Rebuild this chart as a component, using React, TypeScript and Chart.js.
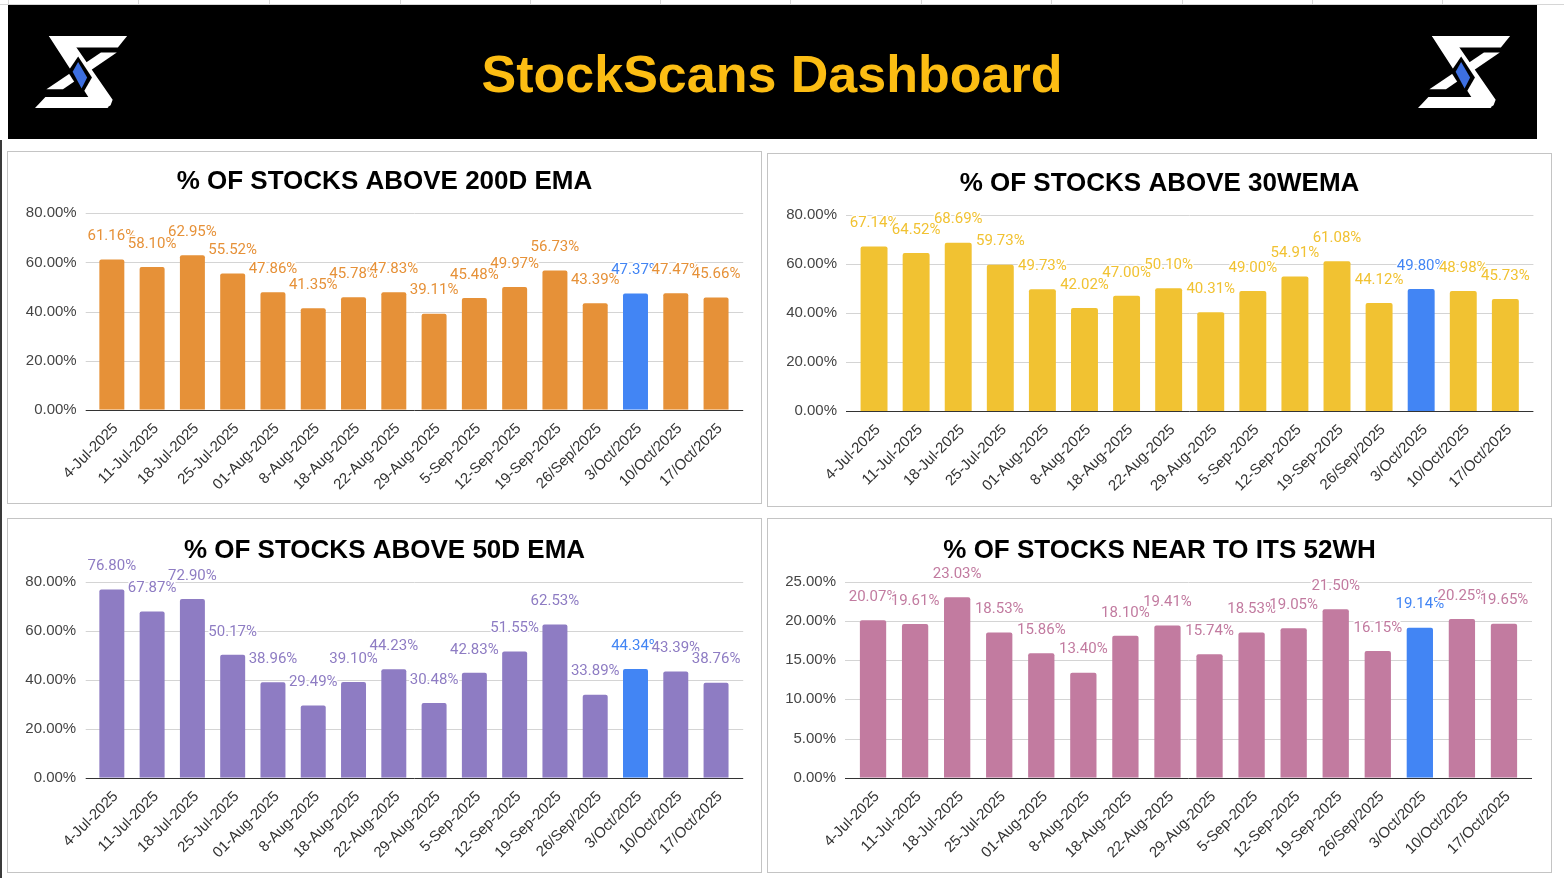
import React, { useEffect, useRef } from 'react';
import { Chart, registerables } from 'chart.js';

Chart.register(...registerables);

// ---------- DATA ----------
const categories = [
  '4-Jul-2025', '11-Jul-2025', '18-Jul-2025', '25-Jul-2025', '01-Aug-2025', '8-Aug-2025',
  '18-Aug-2025', '22-Aug-2025', '29-Aug-2025', '5-Sep-2025', '12-Sep-2025', '19-Sep-2025',
  '26/Sep/2025', '3/Oct/2025', '10/Oct/2025', '17/Oct/2025',
];
const above200dEma = [61.16, 58.10, 62.95, 55.52, 47.86, 41.35, 45.78, 47.83, 39.11, 45.48, 49.97, 56.73, 43.39, 47.37, 47.47, 45.66];
const above30Wema = [67.14, 64.52, 68.69, 59.73, 49.73, 42.02, 47.00, 50.10, 40.31, 49.00, 54.91, 61.08, 44.12, 49.80, 48.98, 45.73];
const above50dEma = [76.80, 67.87, 72.90, 50.17, 38.96, 29.49, 39.10, 44.23, 30.48, 42.83, 51.55, 62.53, 33.89, 44.34, 43.39, 38.76];
const near52wh = [20.07, 19.61, 23.03, 18.53, 15.86, 13.40, 18.10, 19.41, 15.74, 18.53, 19.05, 21.50, 16.15, 19.14, 20.25, 19.65];
const highlightIndex = 13;
const axisMaxPct = [80, 80, 80, 25];
const axisStepPct = [20, 20, 20, 5];
const titles = [
  '% OF STOCKS ABOVE 200D EMA',
  '% OF STOCKS ABOVE 30WEMA',
  '% OF STOCKS ABOVE 50D EMA',
  '% OF STOCKS NEAR TO ITS 52WH',
];

// ---------- STYLE / LAYOUT ----------
const FONT = '"Liberation Sans", Arial, Helvetica, sans-serif';
const LABEL_FONT = 'Roboto, "Noto Sans", sans-serif';
const BLUE = '#4285f4';

type Panel = {
  title: string; values: number[]; color: string; yMax: number; yStep: number;
  left: number; top: number; width: number; height: number;
  padL: number; padR: number; padT: number; padB: number; yPad: number;
  titleY: number; extL: number; extR: number; bp: number;
};

const PANELS: Panel[] = [
  { title: titles[0], values: above200dEma, color: '#e69138', yMax: axisMaxPct[0], yStep: axisStepPct[0],
    left: 7, top: 151, width: 755, height: 353,
    padL: 3.7, padR: 24.8, padT: 61.3, padB: 8.3, yPad: 15, titleY: 37, extL: 6, extR: 7, bp: 0.62 },
  { title: titles[1], values: above30Wema, color: '#f1c232', yMax: axisMaxPct[1], yStep: axisStepPct[1],
    left: 767, top: 153, width: 785, height: 354,
    padL: 5, padR: 24.6, padT: 61, padB: 10, yPad: 16, titleY: 36.5, extL: 7, extR: 7, bp: 0.64 },
  { title: titles[2], values: above50dEma, color: '#8e7cc3', yMax: axisMaxPct[2], yStep: axisStepPct[2],
    left: 7, top: 518, width: 755, height: 355,
    padL: 3.7, padR: 24.8, padT: 62.7, padB: 9.3, yPad: 15.5, titleY: 38.5, extL: 6, extR: 7, bp: 0.62 },
  { title: titles[3], values: near52wh, color: '#c27ba0', yMax: axisMaxPct[3], yStep: axisStepPct[3],
    left: 767, top: 518, width: 785, height: 355,
    padL: 4, padR: 26, padT: 62.7, padB: 9.3, yPad: 16, titleY: 38.5, extL: 7, extR: 7, bp: 0.625 },
];

const decorPlugin = {
  id: 'decor',
  beforeDatasetsDraw(chart: any, _args: any, o: any) {
    const { ctx, chartArea: ca } = chart;
    const ys = chart.scales.y;
    ctx.save();
    ctx.lineWidth = 1;
    ctx.strokeStyle = '#d4d4d4';
    ys.ticks.forEach((t: any) => {
      if (t.value === 0) return;
      const py = Math.round(ys.getPixelForValue(t.value)) + 0.5;
      ctx.beginPath();
      ctx.moveTo(ca.left - o.extL, py);
      ctx.lineTo(ca.right + o.extR, py);
      ctx.stroke();
    });
    ctx.restore();
  },
  afterDatasetsDraw(chart: any, _args: any, o: any) {
    const { ctx, chartArea: ca } = chart;
    const ys = chart.scales.y;
    ctx.save();
    const py = Math.round(ys.getPixelForValue(0)) + 0.5;
    ctx.strokeStyle = '#333333';
    ctx.lineWidth = 1;
    ctx.beginPath();
    ctx.moveTo(ca.left - o.extL, py);
    ctx.lineTo(ca.right + o.extR, py);
    ctx.stroke();

    ctx.font = `15px ${LABEL_FONT}`;
    ctx.textAlign = 'center';
    ctx.textBaseline = 'middle';
    ctx.lineJoin = 'round';
    const meta = chart.getDatasetMeta(0);
    const data = chart.data.datasets[0].data as number[];
    meta.data.forEach((el: any, i: number) => {
      const txt = data[i].toFixed(2) + '%';
      const y = el.y - o.labelGap;
      ctx.strokeStyle = '#ffffff';
      ctx.lineWidth = 3;
      ctx.strokeText(txt, el.x, y);
      ctx.fillStyle = i === o.hi ? BLUE : o.labelColor;
      ctx.fillText(txt, el.x, y);
    });

    ctx.font = `bold 26px ${FONT}`;
    ctx.fillStyle = '#000000';
    ctx.textBaseline = 'alphabetic';
    ctx.fillText(o.title, chart.width / 2, o.titleY);
    ctx.restore();
  },
};

function ChartPanel({ p }: { p: Panel }) {
  const ref = useRef<HTMLCanvasElement | null>(null);
  const cw = p.width - 2;
  const chh = p.height - 2;
  useEffect(() => {
    if (!ref.current) return;
    const chart = new Chart(ref.current, {
      type: 'bar',
      data: {
        labels: categories,
        datasets: [{
          data: p.values,
          backgroundColor: p.values.map((_, i) => (i === highlightIndex ? BLUE : p.color)),
          barPercentage: p.bp,
          categoryPercentage: 1,
          borderRadius: 2,
        }],
      },
      options: {
        responsive: false,
        animation: false,
        layout: { padding: { left: p.padL, right: p.padR, top: p.padT, bottom: p.padB } },
        plugins: {
          legend: { display: false },
          tooltip: { enabled: false },
          title: { display: false },
          // @ts-ignore
          decor: { extL: p.extL, extR: p.extR, labelGap: 23, hi: highlightIndex, labelColor: p.color, title: p.title, titleY: p.titleY },
        },
        scales: {
          x: {
            type: 'category',
            offset: true,
            grid: { display: false, drawTicks: false },
            border: { display: false },
            ticks: {
              autoSkip: false, maxRotation: 45, minRotation: 45,
              font: { family: FONT, size: 15 }, color: '#333333', padding: 10, labelOffset: 4,
            },
            afterFit: (s: any) => { s.height = 85; },
          },
          y: {
            min: 0, max: p.yMax,
            grid: { display: false, drawTicks: false },
            border: { display: false },
            ticks: {
              stepSize: p.yStep,
              callback: (v: any) => Number(v).toFixed(2) + '%',
              font: { family: FONT, size: 15 }, color: '#444444', padding: p.yPad,
            },
            afterFit: (s: any) => { s.width = 80; },
          },
        },
      },
      plugins: [decorPlugin],
    } as any);
    return () => chart.destroy();
  }, [p]);
  return (
    <div style={{ position: 'absolute', left: p.left, top: p.top, width: p.width, height: p.height,
      border: '1px solid #c4c4c4', boxSizing: 'border-box', background: '#fff' }}>
      <canvas ref={ref} width={cw} height={chh} style={{ display: 'block', width: cw, height: chh }} />
    </div>
  );
}

function Logo({ x, y }: { x: number; y: number }) {
  return (
    <g transform={`translate(${x},${y}) scale(0.345,0.348)`}>
      <polygon points="65,15 292,15 265,48 105,48" fill="#fff" />
      <polygon points="65,15 122,15 250,198 244,214 232,222 196,222 186,200" fill="#fff" />
      <polygon points="216,62 262,62 106,168 58,168" fill="#fff" />
      <polygon points="55,190 205,190 238,222 25,222" fill="#fff" />
      <polygon points="150,74 190,134 162,182 120,118" fill="#000" />
      <polygon points="150,90 176,134 160,166 134,118" fill="#3d6fe0" />
    </g>
  );
}

export default function App() {
  const stripLines = [8, 138, 269, 400, 530, 660, 790, 921, 1051, 1182, 1312, 1442];
  return (
    <div style={{ position: 'absolute', left: 0, top: 0, width: 1564, height: 878, background: '#fff', overflow: 'hidden' }}>
      <svg width={1564} height={145} style={{ position: 'absolute', left: 0, top: 0 }}>
        <line x1={0} y1={4.5} x2={1564} y2={4.5} stroke="#d6d6d6" strokeWidth={1} />
        {stripLines.map((lx) => (
          <line key={lx} x1={lx + 0.5} y1={0} x2={lx + 0.5} y2={4} stroke="#d6d6d6" strokeWidth={1} />
        ))}
        <rect x={8} y={5} width={1529} height={134} fill="#000" />
        <Logo x={26.4} y={30.8} />
        <Logo x={1409.4} y={30.8} />
        <text x={772} y={92} textAnchor="middle" fontFamily={FONT} fontWeight="bold" fontSize={52} fill="#fcbd13">
          StockScans Dashboard
        </text>
      </svg>
      <div style={{ position: 'absolute', left: 0, top: 140, width: 2, height: 738, background: '#3a3a3a' }} />
      {PANELS.map((p, i) => <ChartPanel key={i} p={p} />)}
    </div>
  );
}
